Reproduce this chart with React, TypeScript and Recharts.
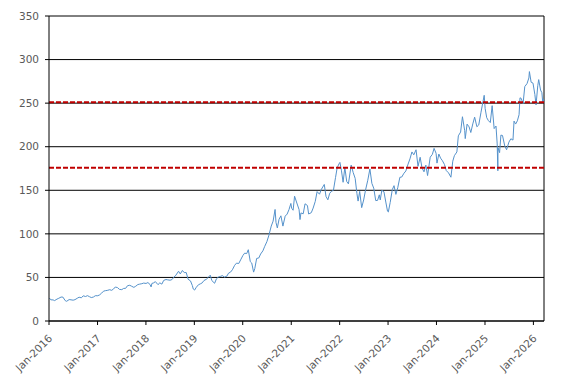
import React from 'react';
import {
  LineChart, Line, XAxis, YAxis, CartesianGrid, ReferenceLine
} from 'recharts';

// Semi-monthly closing prices
const dates: string[] = [
  '2016-01-04', '2016-01-15', '2016-02-01', '2016-02-12', '2016-03-01', '2016-03-15', '2016-04-01', '2016-04-15',
  '2016-05-02', '2016-05-13', '2016-06-01', '2016-06-15', '2016-07-01', '2016-07-15', '2016-08-01', '2016-08-15',
  '2016-09-01', '2016-09-15', '2016-10-03', '2016-10-17', '2016-11-01', '2016-11-15', '2016-12-01', '2016-12-15',
  '2017-01-03', '2017-01-17', '2017-02-01', '2017-02-15', '2017-03-01', '2017-03-15', '2017-04-03', '2017-04-17',
  '2017-05-01', '2017-05-15', '2017-06-01', '2017-06-15', '2017-07-03', '2017-07-17', '2017-08-01', '2017-08-15',
  '2017-09-01', '2017-09-15', '2017-10-02', '2017-10-16', '2017-11-01', '2017-11-15', '2017-12-01', '2017-12-15',
  '2018-01-02', '2018-01-16', '2018-02-01', '2018-02-09', '2018-02-15', '2018-03-01', '2018-03-13', '2018-04-02',
  '2018-04-16', '2018-05-01', '2018-05-15', '2018-06-01', '2018-06-15', '2018-07-02', '2018-07-16', '2018-08-01',
  '2018-08-15', '2018-09-04', '2018-09-17', '2018-10-03', '2018-10-17', '2018-11-01', '2018-11-15', '2018-12-03',
  '2018-12-17', '2018-12-24',
  '2019-01-03', '2019-01-16', '2019-02-01', '2019-02-15', '2019-03-01', '2019-03-15', '2019-04-01', '2019-04-15',
  '2019-05-01', '2019-05-13', '2019-06-03', '2019-06-17', '2019-07-01', '2019-07-15', '2019-08-01', '2019-08-15',
  '2019-09-03', '2019-09-16', '2019-10-01', '2019-10-15', '2019-11-01', '2019-11-15', '2019-12-02', '2019-12-16',
  '2020-01-02', '2020-01-15', '2020-01-31', '2020-02-12', '2020-02-27', '2020-03-09', '2020-03-23', '2020-04-01',
  '2020-04-15', '2020-05-01', '2020-05-15', '2020-06-01', '2020-06-15', '2020-07-01', '2020-07-15', '2020-08-03',
  '2020-08-17', '2020-09-01', '2020-09-08', '2020-09-18', '2020-10-01', '2020-10-15', '2020-10-30', '2020-11-16',
  '2020-12-01', '2020-12-15', '2020-12-29',
  '2021-01-04', '2021-01-15', '2021-01-26', '2021-02-12', '2021-03-01', '2021-03-08', '2021-03-15', '2021-04-01',
  '2021-04-15', '2021-05-03', '2021-05-12', '2021-06-01', '2021-06-15', '2021-07-01', '2021-07-15', '2021-08-02',
  '2021-08-16', '2021-09-07', '2021-09-20', '2021-10-04', '2021-10-18', '2021-11-01', '2021-11-15', '2021-12-01',
  '2021-12-13', '2021-12-27',
  '2022-01-03', '2022-01-14', '2022-01-27', '2022-02-09', '2022-02-23', '2022-03-08', '2022-03-29', '2022-04-13',
  '2022-04-28', '2022-05-11', '2022-05-20', '2022-06-01', '2022-06-16', '2022-07-01', '2022-07-15', '2022-08-01',
  '2022-08-17', '2022-09-01', '2022-09-15', '2022-09-30', '2022-10-14', '2022-10-27', '2022-11-03', '2022-11-15',
  '2022-12-01', '2022-12-15', '2022-12-28',
  '2023-01-03', '2023-01-17', '2023-02-02', '2023-02-15', '2023-03-01', '2023-03-15', '2023-03-31', '2023-04-14',
  '2023-05-01', '2023-05-15', '2023-06-01', '2023-06-15', '2023-06-30', '2023-07-14', '2023-07-31', '2023-08-15',
  '2023-08-31', '2023-09-14', '2023-09-29', '2023-10-13', '2023-10-26', '2023-11-15', '2023-12-01', '2023-12-14',
  '2023-12-29',
  '2024-01-05', '2024-01-19', '2024-02-01', '2024-02-15', '2024-03-01', '2024-03-15', '2024-04-01', '2024-04-19',
  '2024-05-03', '2024-05-15', '2024-06-03', '2024-06-14', '2024-07-01', '2024-07-15', '2024-08-01', '2024-08-05',
  '2024-08-19', '2024-09-03', '2024-09-16', '2024-10-01', '2024-10-15', '2024-11-01', '2024-11-15', '2024-12-02',
  '2024-12-16', '2024-12-26',
  '2025-01-02', '2025-01-14', '2025-01-27', '2025-02-10', '2025-02-24', '2025-03-11', '2025-03-25', '2025-04-03',
  '2025-04-08', '2025-04-09', '2025-04-21', '2025-05-01', '2025-05-13', '2025-05-30', '2025-06-13', '2025-06-30',
  '2025-07-15', '2025-07-31', '2025-08-08', '2025-08-20', '2025-09-02', '2025-09-15', '2025-09-22', '2025-10-01',
  '2025-10-15', '2025-10-28', '2025-11-14', '2025-11-28', '2025-12-02', '2025-12-15', '2025-12-29',
  '2026-01-12', '2026-01-21', '2026-02-03', '2026-02-10', '2026-02-24', '2026-03-06', '2026-03-13', '2026-03-20',
];

const prices: number[] = [
  26.3, 24.3, 24.2, 23.4, 25.1, 26.1, 27.5, 27.4,
  23.4, 22.6, 24.6, 24.3, 23.9, 24.5, 26.1, 27.3,
  26.6, 28.9, 28.1, 29.1, 27.9, 26.9, 27.5, 29.0,
  29.0, 30.0, 32.0, 34.2, 34.8, 35.1, 35.9, 35.2,
  36.6, 39.0, 38.3, 36.3, 36.0, 37.4, 37.5, 40.5,
  41.0, 39.9, 38.6, 39.9, 41.8, 42.3, 42.8, 43.5,
  43.1, 44.1, 41.9, 39.1, 43.1, 43.8, 45.2, 41.7,
  43.8, 42.3, 46.6, 47.6, 47.2, 46.8, 47.5, 50.4,
  52.6, 57.1, 54.0, 58.0, 55.5, 55.6, 47.9, 46.0,
  40.7, 36.7,
  35.5, 38.7, 41.6, 42.6, 43.7, 46.5, 47.8, 49.9,
  52.6, 46.4, 43.3, 48.5, 50.4, 51.1, 52.1, 50.4,
  51.4, 54.9, 56.1, 58.8, 63.9, 66.4, 66.0, 70.1,
  75.1, 77.8, 77.4, 81.8, 68.1, 66.5, 56.1, 60.2,
  71.8, 72.3, 76.9, 80.5, 85.7, 91.0, 97.7, 108.9,
  114.6, 128.0, 113.0, 106.8, 116.8, 120.7, 108.9, 120.3,
  122.7, 127.9, 134.9,
  129.4, 127.1, 143.2, 135.4, 127.8, 116.4, 124.0, 123.0,
  134.5, 132.5, 122.8, 124.3, 129.6, 137.3, 148.5, 145.5,
  151.1, 156.7, 142.9, 139.1, 146.6, 148.9, 150.0, 164.8,
  175.7, 180.3,
  182.0, 173.1, 159.2, 176.3, 160.1, 157.4, 178.9, 170.4,
  163.6, 146.5, 137.6, 148.7, 130.1, 138.9, 150.2, 161.5,
  174.5, 157.9, 152.4, 138.2, 138.4, 144.8, 138.9, 150.0,
  148.3, 136.5, 126.0,
  125.1, 135.9, 150.8, 155.3, 145.3, 152.9, 164.9, 165.2,
  169.6, 172.1, 180.1, 186.0, 194.0, 190.7, 196.5, 177.5,
  187.9, 175.7, 171.2, 178.9, 166.9, 188.0, 191.2, 198.1,
  192.5,
  181.2, 191.6, 186.9, 183.9, 179.7, 172.6, 170.0, 165.0,
  183.4, 189.7, 194.0, 212.5, 216.8, 234.4, 218.4, 209.3,
  225.9, 222.8, 216.3, 226.2, 233.9, 222.9, 225.0, 239.6,
  251.0, 259.0,
  243.9, 233.3, 229.9, 227.7, 247.1, 220.8, 223.7, 203.2,
  172.4, 198.9, 193.2, 213.3, 212.9, 200.9, 196.5, 205.2,
  209.1, 207.6, 229.4, 226.0, 229.7, 236.7, 256.1, 255.5,
  249.3, 269.0, 272.4, 278.9, 286.2, 274.0, 273.0,
  260.0, 248.0, 270.0, 277.0, 265.0, 262.0, 250.0, 255.0,
];

const yTicks: number[] = [0, 50, 100, 150, 200, 250, 300, 350];
const tickYears: number[] = [2016, 2017, 2018, 2019, 2020, 2021, 2022, 2023, 2024, 2025, 2026];
const refLevels: number[] = [251, 176];

const toTime = (s: string) => {
  const [y, m, d] = s.split('-').map(Number);
  return Date.UTC(y, m - 1, d);
};

const data = dates.map((d, i) => ({ t: toTime(d), price: prices[i] }));
const xTicks = tickYears.map((y) => Date.UTC(y, 0, 1));
const xStart = Date.UTC(2016, 0, 1);
const xEnd = Date.UTC(2026, 2, 22);

const fmtTick = (t: number) => `Jan-${new Date(t).getUTCFullYear()}`;

const fontFamily = '"DejaVu Sans", Verdana, sans-serif';

const XTick = ({ x, y, payload }: any) => {
  const ax = x + 4;
  const ay = y + 12;
  return (
    <text
      x={ax}
      y={ay}
      textAnchor="end"
      fill="#595959"
      fontSize={10.5}
      fontFamily={fontFamily}
      transform={`rotate(-45, ${ax}, ${ay})`}
    >
      {fmtTick(payload.value)}
    </text>
  );
};

const App: React.FC = () => {
  return (
    <div style={{ position: 'absolute', left: 0, top: 0, background: '#fff' }}>
      <LineChart
        width={572}
        height={385}
        data={data}
        margin={{ top: 16, right: 28, left: 0, bottom: 0 }}
      >
        <CartesianGrid vertical={false} stroke="#000" strokeWidth={1} />
        <XAxis
          dataKey="t"
          type="number"
          scale="time"
          domain={[xStart, xEnd]}
          ticks={xTicks}
          tick={<XTick />}
          height={64}
          tickSize={4}
          axisLine={{ stroke: '#000' }}
          tickLine={{ stroke: '#000' }}
          interval={0}
          allowDataOverflow
        />
        <YAxis
          domain={[0, 350]}
          ticks={yTicks}
          width={49}
          tickSize={4}
          tickMargin={6}
          axisLine={{ stroke: '#000' }}
          tickLine={{ stroke: '#000' }}
          tick={{ fill: '#595959', fontSize: 10.5, fontFamily }}
          interval={0}
        />
        <ReferenceLine x={xEnd} stroke="#000" strokeWidth={1} />
        <Line
          type="linear"
          dataKey="price"
          stroke="#5592cb"
          strokeWidth={1}
          dot={false}
          activeDot={false}
          isAnimationActive={false}
        />
        {refLevels.map((v) => (
          <ReferenceLine key={v} y={v} stroke="#c00000" strokeWidth={2} strokeDasharray="5 2" />
        ))}
      </LineChart>
    </div>
  );
};

export default App;
